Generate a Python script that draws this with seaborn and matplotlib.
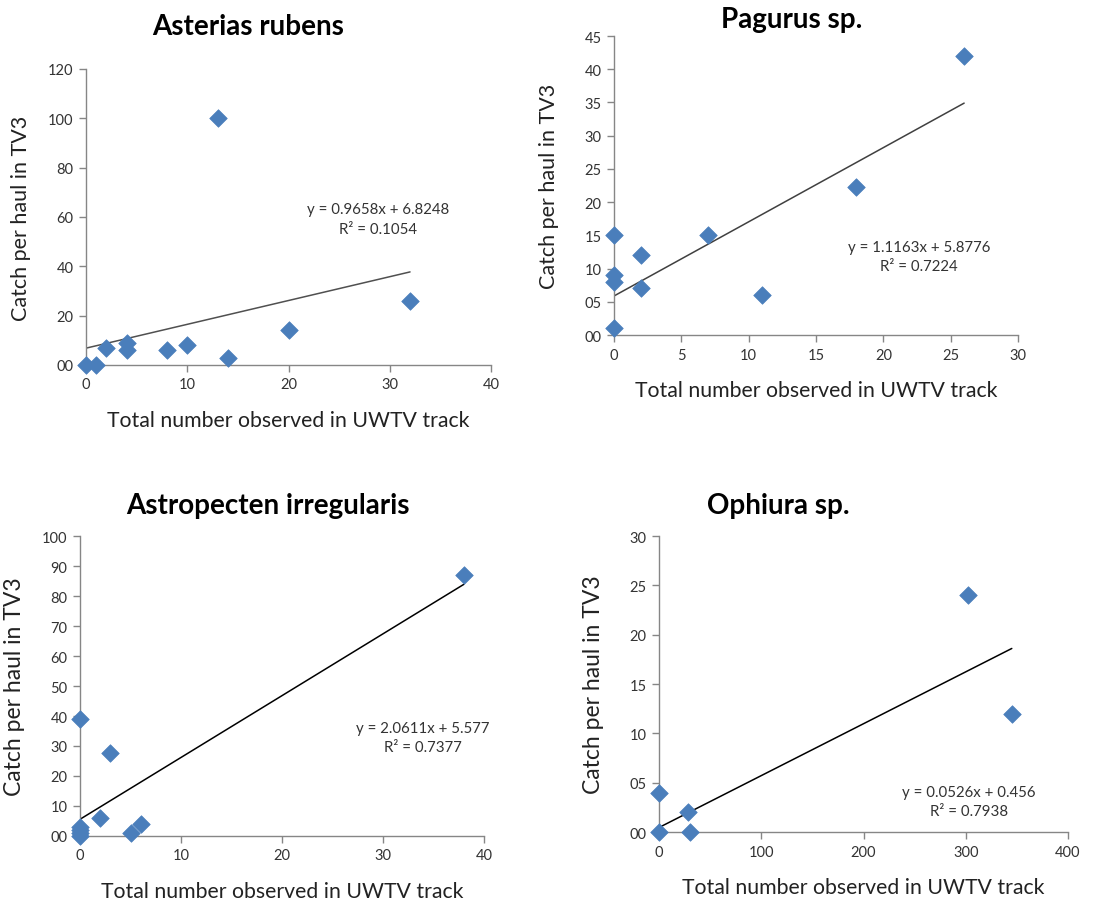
import matplotlib
matplotlib.use("Agg")
import matplotlib.pyplot as plt
from matplotlib.ticker import FuncFormatter
import numpy as np
import seaborn as sns
import pandas as pd

# values
asterias_x = [0, 1, 2, 4, 4, 8, 10, 13, 14, 20, 32]
asterias_y = [0, 0, 7, 9, 6, 6, 8, 100, 3, 14, 26]
asterias_fit = (0.9658, 6.8248, 0.1054)

pagurus_x = [0, 0, 0, 0, 2, 2, 7, 11, 18, 26]
pagurus_y = [15, 9, 8, 1, 12, 7, 15, 6, 22.3, 42]
pagurus_fit = (1.1163, 5.8776, 0.7224)

astro_x = [0, 0, 0, 0, 0, 2, 3, 5, 6, 38]
astro_y = [39, 3, 2, 1, 0, 6, 27.5, 1, 4, 87]
astro_fit = (2.0611, 5.577, 0.7377)

ophiura_x = [0, 0, 28, 30, 302, 345]
ophiura_y = [4, 0, 2, 0, 24, 12]
ophiura_fit = (0.0526, 0.456, 0.7938)

sns.set_style("white")
plt.rcParams['font.family'] = ['Lato', 'DejaVu Sans']

fig = plt.figure(figsize=(11.07, 9.03), dpi=100)

panels = [
    # title, x, y, fit, rect, xmax, xstep, ymax, ystep, title pos, eq pos, line colour, ylabel size
    ("Asterias rubens", asterias_x, asterias_y, asterias_fit,
     [0.0777, 0.5947, 0.3659, 0.3278], 40, 10, 120, 20, (0.40, 1.145), (0.721, 0.493), "#505050", 15.5),
    ("Pagurus sp.", pagurus_x, pagurus_y, pagurus_fit,
     [0.5547, 0.6279, 0.3649, 0.3311], 30, 5, 45, 5, (0.44, 1.057), (0.755, 0.263), "#404040", 15.5),
    ("Astropecten irregularis", astro_x, astro_y, astro_fit,
     [0.0723, 0.0731, 0.3650, 0.3322], 40, 10, 100, 10, (0.465, 1.103), (0.849, 0.328), "black", 16.5),
    ("Ophiura sp.", ophiura_x, ophiura_y, ophiura_fit,
     [0.5953, 0.0775, 0.3695, 0.3278], 400, 100, 30, 5, (0.291, 1.105), (0.758, 0.103), "black", 16.5),
]

for title, xs, ys, fit, rect, xmax, xstep, ymax, ystep, tpos, epos, lc, yls in panels:
    ax = fig.add_axes(rect)
    df = pd.DataFrame({"x": xs, "y": ys})
    slope, icpt, r2 = fit
    xl = np.array([min(xs), max(xs)])
    ax.plot(xl, slope * xl + icpt, color=lc, lw=1.1, zorder=2)
    sns.scatterplot(data=df, x="x", y="y", marker="D", s=80, color="#4A7EBB",
                    edgecolor="#4A7EBB", linewidth=0.5, ax=ax, zorder=3, clip_on=False)
    ax.set_xlim(0, xmax)
    ax.set_ylim(0, ymax)
    ax.set_xticks(np.arange(0, xmax + 1, xstep))
    ax.set_yticks(np.arange(0, ymax + 1, ystep))
    ax.yaxis.set_major_formatter(FuncFormatter(lambda v, p: "%02d" % v))
    for s in ["top", "right"]:
        ax.spines[s].set_visible(False)
    for s in ["left", "bottom"]:
        ax.spines[s].set_color("#868686")
        ax.spines[s].set_linewidth(1)
    ax.tick_params(axis="both", direction="out", length=5, width=1, color="#868686",
                   labelsize=10.5, labelcolor="#333333", pad=4, left=True, bottom=True)
    ax.set_xlabel("Total number observed in UWTV track", fontsize=15.3, color="#222222")
    ax.set_ylabel("Catch per haul in TV3", fontsize=yls, color="#222222")
    h_px = rect[3] * 903
    w_px = rect[2] * 1107
    ax.xaxis.set_label_coords(0.5, -45 / h_px)
    ax.yaxis.set_label_coords(-55 / w_px, 0.5)
    ax.text(tpos[0], tpos[1], title, transform=ax.transAxes, ha="center", va="center",
            fontsize=20, fontweight="bold", color="black")
    ax.text(epos[0], epos[1], "y = %sx + %s\nR² = %s" % (slope, icpt, r2),
            transform=ax.transAxes, ha="center", va="center", fontsize=10.8,
            color="#333333", linespacing=1.5, multialignment="center")

fig.savefig("out.png", dpi=100)
